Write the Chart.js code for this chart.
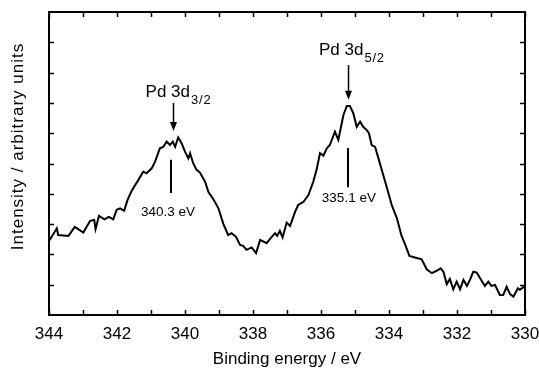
<!DOCTYPE html>
<html>
<head>
<meta charset="utf-8">
<style>
  html, body { margin: 0; padding: 0; background: #fff; }
</style>
<script src="https://cdn.jsdelivr.net/npm/chart.js@4/dist/chart.umd.min.js"></script>
</head>
<body>
<canvas id="xpsChart" width="539" height="370"></canvas>
<script>
// binding energy (eV) and intensity (arbitrary units)
const energy = [
  344.00, 343.77, 343.73, 343.43, 343.24, 342.99, 342.79, 342.67, 342.63, 342.53,
  342.37, 342.24, 342.11, 342.01, 341.91, 341.79, 341.69, 341.57, 341.52, 341.37,
  341.23, 341.13, 340.98, 340.88, 340.74, 340.64, 340.54, 340.44, 340.36, 340.29,
  340.20, 340.10, 340.00, 339.90, 339.85, 339.76, 339.66, 339.56, 339.41, 339.31,
  339.17, 339.02, 338.87, 338.73, 338.63, 338.50, 338.38, 338.29, 338.19, 338.04,
  337.91, 337.79, 337.60, 337.45, 337.35, 337.29, 337.21, 337.13, 337.01, 336.91,
  336.76, 336.67, 336.52, 336.37, 336.23, 336.13, 336.03, 335.93, 335.83, 335.74,
  335.59, 335.49, 335.34, 335.24, 335.15, 335.05, 334.95, 334.85, 334.76, 334.66,
  334.59, 334.51, 334.41, 334.31, 334.17, 334.07, 333.92, 333.77, 333.63, 333.53,
  333.40, 333.24, 333.04, 332.89, 332.74, 332.60, 332.48, 332.40, 332.30, 332.21,
  332.11, 332.01, 331.91, 331.81, 331.71, 331.62, 331.52, 331.42, 331.32, 331.18,
  331.08, 330.99, 330.88, 330.74, 330.64, 330.54, 330.44, 330.34, 330.21, 330.15,
  330.00
];
const intensity = [
  2.44, 2.86, 2.64, 2.61, 2.91, 2.72, 3.11, 3.14, 2.84, 3.27,
  3.16, 3.24, 3.16, 3.47, 3.52, 3.44, 3.80, 4.09, 4.19, 4.46,
  4.73, 4.68, 4.84, 5.06, 5.50, 5.55, 5.72, 5.61, 5.72, 5.55,
  5.86, 5.67, 5.39, 5.17, 5.34, 5.01, 4.79, 4.70, 4.40, 4.06,
  3.83, 3.53, 3.00, 2.64, 2.70, 2.58, 2.31, 2.28, 2.15, 2.23,
  2.04, 2.48, 2.37, 2.58, 2.70, 2.61, 2.78, 2.56, 3.05, 2.94,
  3.41, 3.63, 3.73, 3.96, 4.39, 4.79, 5.34, 5.26, 5.50, 5.61,
  6.05, 5.78, 6.60, 6.90, 6.90, 6.66, 6.21, 6.38, 6.21, 6.11,
  6.00, 5.61, 5.55, 5.17, 4.62, 4.23, 3.63, 3.20, 2.61, 2.34,
  1.95, 1.90, 1.84, 1.51, 1.38, 1.46, 1.54, 1.43, 1.02, 1.19,
  0.85, 1.10, 0.85, 1.16, 0.96, 1.16, 1.43, 1.40, 1.21, 0.96,
  1.10, 0.96, 0.99, 0.66, 0.66, 0.93, 0.69, 0.60, 0.88, 0.83,
  0.96
];

const peakNames = ['Pd 3d', 'Pd 3d'];
const peakSubs = ['3/2', '5/2'];
const peakLabels = ['340.3 eV', '335.1 eV'];

const FONT = '"Liberation Sans", Arial, Helvetica, sans-serif';

// where the peak annotations sit, in data units
const notePlaces = [
  { arrowX: 340.35, arrowTop: 7.0, arrowTip: 6.07, lineX: 340.4, lineTop: 5.12, lineBottom: 4.03,
    nameX: 341.16, nameY: 7.19, labelX: 340.5, labelY: 3.40 },
  { arrowX: 335.2, arrowTop: 8.25, arrowTip: 7.10, lineX: 335.2, lineTop: 5.51, lineBottom: 4.22,
    nameX: 336.06, nameY: 8.58, labelX: 335.18, labelY: 3.86 }
];

const framePlugin = {
  id: 'frame',
  afterDraw(chart) {
    const ctx = chart.ctx;
    const a = chart.chartArea;
    const xs = chart.scales.x, ys = chart.scales.y;
    ctx.save();
    ctx.strokeStyle = '#000';
    ctx.lineWidth = 2;
    ctx.strokeRect(a.left, a.top, a.right - a.left, a.bottom - a.top);

    // inward ticks
    ctx.beginPath();
    for (let v = xs.min; v <= xs.max; v++) {
      const px = Math.round(xs.getPixelForValue(v)) + 0.5;
      ctx.moveTo(px, a.bottom); ctx.lineTo(px, a.bottom - 5);
      ctx.moveTo(px, a.top); ctx.lineTo(px, a.top + 5);
    }
    for (let v = ys.min + 1; v < ys.max; v++) {
      const py = Math.round(ys.getPixelForValue(v)) + 0.5;
      ctx.moveTo(a.left, py); ctx.lineTo(a.left + 5, py);
      ctx.moveTo(a.right, py); ctx.lineTo(a.right - 5, py);
    }
    ctx.lineWidth = 1.5;
    ctx.stroke();

    // y axis title
    ctx.translate(18.5, 146.5);
    ctx.rotate(-Math.PI / 2);
    ctx.fillStyle = '#000';
    ctx.font = '17px ' + FONT;
    ctx.letterSpacing = '1px';
    ctx.textAlign = 'center';
    ctx.textBaseline = 'middle';
    ctx.fillText('Intensity / arbitrary units', 0, 0);
    ctx.restore();
  }
};

const peakPlugin = {
  id: 'peaks',
  afterDatasetsDraw(chart) {
    const ctx = chart.ctx;
    const xs = chart.scales.x, ys = chart.scales.y;
    ctx.save();
    ctx.fillStyle = '#000';
    ctx.strokeStyle = '#000';
    notePlaces.forEach((p, i) => {
      // arrow
      const ax = Math.round(xs.getPixelForValue(p.arrowX)) + 0.5;
      const aTop = ys.getPixelForValue(p.arrowTop);
      const aTip = ys.getPixelForValue(p.arrowTip);
      ctx.lineWidth = 1.5;
      ctx.beginPath();
      ctx.moveTo(ax, aTop);
      ctx.lineTo(ax, aTip - 6);
      ctx.stroke();
      ctx.beginPath();
      ctx.moveTo(ax - 3.5, aTip - 9);
      ctx.lineTo(ax + 3.5, aTip - 9);
      ctx.lineTo(ax, aTip);
      ctx.closePath();
      ctx.fill();

      // position marker
      const lx = Math.round(xs.getPixelForValue(p.lineX));
      ctx.lineWidth = 2;
      ctx.beginPath();
      ctx.moveTo(lx, ys.getPixelForValue(p.lineTop));
      ctx.lineTo(lx, ys.getPixelForValue(p.lineBottom));
      ctx.stroke();

      // peak name with subscript
      const nx = xs.getPixelForValue(p.nameX);
      const ny = ys.getPixelForValue(p.nameY);
      ctx.textAlign = 'left';
      ctx.textBaseline = 'alphabetic';
      ctx.font = '17px ' + FONT;
      ctx.fillText(peakNames[i], nx, ny);
      const w = ctx.measureText(peakNames[i]).width;
      ctx.font = '13px ' + FONT;
      ctx.letterSpacing = '0.8px';
      ctx.fillText(peakSubs[i], nx + w + 1, ny + 7);
      ctx.letterSpacing = '0px';

      // energy label
      ctx.font = '13.5px ' + FONT;
      ctx.textAlign = 'center';
      ctx.textBaseline = 'middle';
      ctx.fillText(peakLabels[i], xs.getPixelForValue(p.labelX), ys.getPixelForValue(p.labelY));
    });
    ctx.restore();
  }
};

new Chart(document.getElementById('xpsChart').getContext('2d'), {
  type: 'line',
  data: {
    datasets: [{
      data: energy.map((e, i) => ({ x: e, y: intensity[i] })),
      borderColor: '#000',
      borderWidth: 2,
      pointRadius: 0,
      tension: 0,
      fill: false
    }]
  },
  options: {
    responsive: false,
    animation: false,
    layout: { padding: { top: 12, right: 14, bottom: 0, left: 0 } },
    plugins: { legend: { display: false }, tooltip: { enabled: false } },
    scales: {
      x: {
        type: 'linear',
        reverse: true,
        min: 330,
        max: 344,
        grid: { display: false, drawTicks: false },
        border: { display: false },
        ticks: { stepSize: 2, color: '#000', padding: 9, maxRotation: 0, font: { size: 17, family: FONT } },
        title: { display: true, text: 'Binding energy / eV', color: '#000', padding: 0, font: { size: 17, family: FONT } },
        afterFit(s) { s.height = 55; s.paddingLeft = 0; s.paddingRight = 0; }
      },
      y: {
        min: 0,
        max: 10,
        grid: { display: false, drawTicks: false },
        border: { display: false },
        ticks: { display: false, stepSize: 1 },
        afterFit(s) { s.width = 49; s.paddingTop = 0; s.paddingBottom = 0; }
      }
    }
  },
  plugins: [framePlugin, peakPlugin]
});
</script>
</body>
</html>
